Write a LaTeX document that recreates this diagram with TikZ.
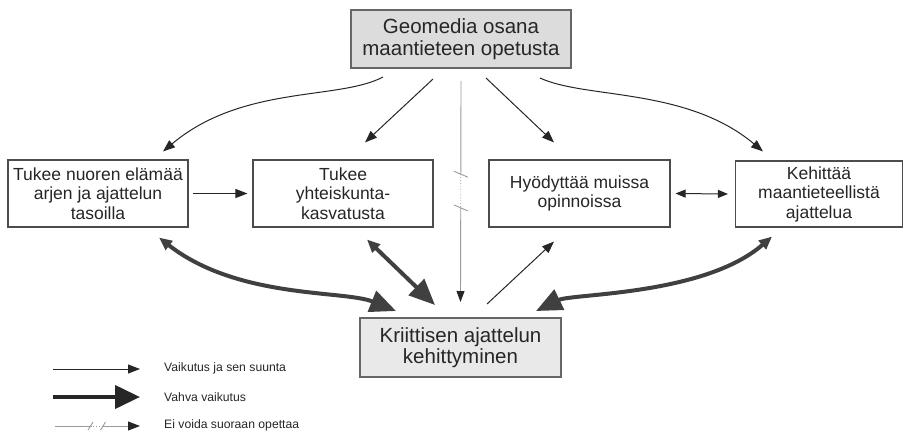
\documentclass[tikz,border=0pt]{standalone}
\usepackage{fontspec}
\setmainfont{Liberation Sans}
\usetikzlibrary{arrows.meta,calc}

\definecolor{boxgray}{HTML}{DCDCDC}
\definecolor{botgray}{HTML}{E8E9E8}
\definecolor{darkline}{HTML}{404040}
\definecolor{thinline}{HTML}{262626}
\definecolor{breakgray}{HTML}{9A9A9A}

\begin{document}
\begin{tikzpicture}[x=1pt,y=1pt]
    \tikzstyle{box}=[
        draw=black!70,
        line width=1.1pt,
        fill=white,
        text=black!85,
        align=center,
        inner sep=0pt,
        minimum height=67pt,
        font=\fontsize{17.5}{19.5}\selectfont]
    \tikzstyle{mainbox}=[box, draw=black!60, line width=2pt,
        font=\fontsize{20.5}{21.5}\selectfont]
    \tikzstyle{legtxt}=[anchor=west, inner sep=0pt, text=black!85,
        font=\fontsize{12.2}{14}\selectfont]
    \tikzstyle{vaik}=[draw=thinline, line width=1pt,
        -{Triangle[length=12pt,width=9pt]}]
    \tikzstyle{vahva}=[draw=darkline, line width=4pt,
        {Triangle[length=13pt,width=11pt]}-{Triangle[length=26pt,width=22pt]}]
    \tikzstyle{eivoi}=[draw=breakgray, line width=0.9pt]

    \useasboundingbox (0,0) rectangle (904,-431);

    \node[mainbox, minimum width=220pt, minimum height=58pt, fill=boxgray] (geo) at (461,-39) {Geomedia osana\\maantieteen opetusta};
    \node[box, minimum width=180pt] (n1) at (98,-193.5) {Tukee nuoren elämää\\arjen ja ajattelun\\tasoilla};
    \node[box, minimum width=180pt] (n2) at (343,-193.5) {Tukee\\yhteiskunta-\\kasvatusta};
    \node[box, minimum width=181pt] (n3) at (579.5,-193.5) {Hyödyttää muissa\\opinnoissa};
    \node[box, minimum width=167pt, minimum height=66pt] (n4) at (819,-194) {Kehittää\\maantieteellistä\\ajattelua};
    \node[mainbox, minimum width=201pt, minimum height=59pt, fill=botgray] (krit) at (460.5,-347.5) {Kriittisen ajattelun\\kehittyminen};

    \draw[vaik] ([xshift=33pt,yshift=-8pt]geo.south west) to[out=208,in=40,out distance=50pt,in distance=104pt] ([xshift=65pt,yshift=8pt]n1.north);
    \draw[vaik] ([xshift=-28pt,yshift=-10pt]geo.south) -- ([xshift=22pt,yshift=17pt]n2.north);
    \draw[vaik] ([xshift=25pt,yshift=-9pt]geo.south) -- ([xshift=-25.5pt,yshift=17pt]n3.north);
    \draw[vaik] ([xshift=-32pt,yshift=-9pt]geo.south east) to[out=-25,in=140,out distance=50pt,in distance=100pt] ([xshift=-56pt,yshift=9pt]n4.north);

    \coordinate (c1) at ($(geo.south)!0.424!(krit.north)$);
    \coordinate (c2) at ($(geo.south)!0.56!(krit.north)$);
    \draw[eivoi] ([yshift=-12pt]geo.south) -- (c1);
    \draw[eivoi, dotted] (c1) -- (c2);
    \draw[eivoi, -{Triangle[length=11pt,width=8pt,color=thinline]}] (c2) -- ([yshift=15pt]krit.north);
    \draw[eivoi] ($(c1)+(-7,3)$) -- ($(c1)+(7,-3)$);
    \draw[eivoi] ($(c2)+(-7,3)$) -- ($(c2)+(7,-3)$);

    \draw[vaik] ([xshift=4pt]n1.east) -- ([xshift=-5pt]n2.west);
    \draw[vaik, {Triangle[length=10pt,width=8pt]}-{Triangle[length=10pt,width=8pt]}] ([xshift=5pt]n3.east) -- ([xshift=-7pt]n4.west);

    \draw[vahva] ([xshift=61pt,yshift=-10pt]n1.south) to[out=-38,in=158,out distance=100pt,in distance=56pt] ([xshift=37pt,yshift=6pt]krit.north west);
    \draw[vahva] ([xshift=24pt,yshift=-12pt]n2.south) -- ([xshift=-25.5pt,yshift=12pt]krit.north);
    \draw[vaik] ([xshift=26.5pt,yshift=13pt]krit.north) -- ([xshift=-25.5pt,yshift=-14pt]n3.south);
    \draw[vahva] ([xshift=-47pt,yshift=-9pt]n4.south) to[out=-139,in=26,out distance=90pt,in distance=40pt] ([xshift=-26pt,yshift=6pt]krit.north east);

    \node[legtxt] (t1) at (164,-368) {Vaikutus ja sen suunta};
    \node[legtxt] (t2) at (164,-397) {Vahva vaikutus};
    \node[legtxt] (t3) at (164,-425) {Ei voida suoraan opettaa};
    \coordinate (l1) at (53,-369);
    \coordinate (l2) at (53,-397);
    \coordinate (l3) at (55,-426);
    \coordinate (s1) at (90.5,-426);
    \coordinate (s2) at (103,-426);
    \draw[vaik] (l1) -- ([xshift=-24pt,yshift=-1pt]t1.west);
    \draw[draw=thinline, line width=4pt, -{Triangle[length=25pt,width=23pt]}] (l2) -- ([xshift=-24pt]t2.west);
    \draw[eivoi] (l3) -- (s1);
    \draw[eivoi, dotted] (s1) -- (s2);
    \draw[eivoi, -{Triangle[length=12pt,width=9pt,color=thinline]}] (s2) -- ([xshift=-24pt,yshift=-1pt]t3.west);
    \draw[eivoi] ($(s1)+(-2.5,-4)$) -- ($(s1)+(2.5,4)$);
    \draw[eivoi] ($(s2)+(-2.5,-4)$) -- ($(s2)+(2.5,4)$);
\end{tikzpicture}
\end{document}
